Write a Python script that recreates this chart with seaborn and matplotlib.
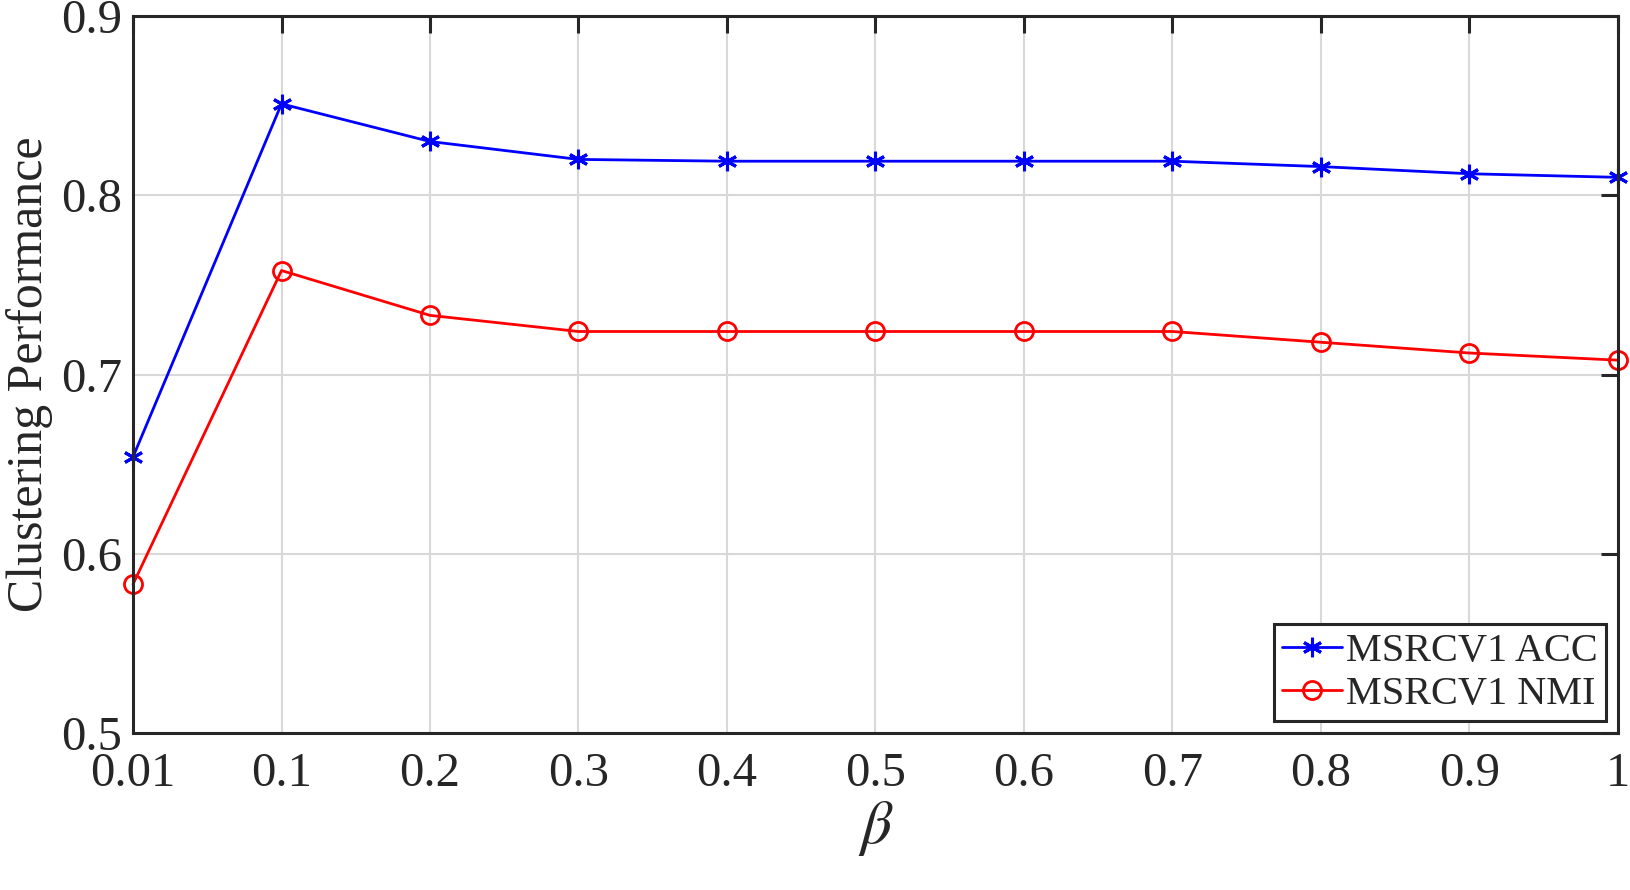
import matplotlib
matplotlib.use("Agg")
import matplotlib.pyplot as plt
import seaborn as sns
import pandas as pd

# beta values (categorical, equally spaced)
beta_labels = ["0.01", "0.1", "0.2", "0.3", "0.4", "0.5", "0.6", "0.7", "0.8", "0.9", "1"]
acc = [0.654, 0.851, 0.830, 0.820, 0.819, 0.819, 0.819, 0.819, 0.816, 0.812, 0.810]
nmi = [0.583, 0.758, 0.733, 0.724, 0.724, 0.724, 0.724, 0.724, 0.718, 0.712, 0.708]


def plot_sensitivity():
    """
    Clustering performance vs beta
    """
    sns.set_style("white")
    plt.rcParams['font.family'] = ['Liberation Serif', 'DejaVu Serif']
    plt.rcParams['mathtext.fontset'] = 'stix'

    df = pd.DataFrame({
        'pos': list(range(len(beta_labels))),
        'acc': acc,
        'nmi': nmi,
    })

    fig = plt.figure(figsize=(16.3, 8.9), dpi=100)
    ax = fig.add_axes([0.0816, 0.1764, 0.9110, 0.8056])

    sns.lineplot(x='pos', y='acc', data=df, ax=ax, color='#0000ff', lw=2,
                 marker=(6, 2, 0), markersize=14, markeredgewidth=2.2,
                 markeredgecolor='#0000ff', label='MSRCV1 ACC', clip_on=False)
    sns.lineplot(x='pos', y='nmi', data=df, ax=ax, color='#ff0000', lw=2,
                 marker='o', markersize=13, markerfacecolor='none',
                 markeredgewidth=2, markeredgecolor='#ff0000', label='MSRCV1 NMI',
                 clip_on=False)

    ax.set_xlim(0, len(beta_labels) - 1)
    ax.set_ylim(0.5, 0.9)
    ax.set_xticks(range(len(beta_labels)))
    ax.set_xticklabels(beta_labels)
    ax.set_yticks([0.5, 0.6, 0.7, 0.8, 0.9])
    ax.set_yticklabels(["0.5", "0.6", "0.7", "0.8", "0.9"])
    ax.grid(True, color='#d8d8d8', lw=1.5)
    ax.tick_params(direction='in', length=12, width=2.2, labelsize=35,
                   colors='#262626', top=True, right=True)
    ax.tick_params(axis='x', pad=14)
    ax.tick_params(axis='y', pad=8)
    for sp in ax.spines.values():
        sp.set_visible(True)
        sp.set_linewidth(2.2)
        sp.set_color('#262626')

    ax.set_xlabel(r'$\beta$', fontsize=44, color='#262626', labelpad=2)
    ax.set_ylabel('Clustering Performance', fontsize=36, color='#262626', labelpad=6)

    leg = ax.legend(loc='lower right', fontsize=29, frameon=True, fancybox=False,
                    borderpad=0.2, handlelength=1.5, handletextpad=0.1,
                    labelspacing=0.15, borderaxespad=0.3)
    leg.get_frame().set_edgecolor('#262626')
    leg.get_frame().set_linewidth(2.2)
    leg.get_frame().set_alpha(1)
    for t in leg.get_texts():
        t.set_color('#262626')

    plt.savefig('out.png', dpi=100)


plot_sensitivity()
